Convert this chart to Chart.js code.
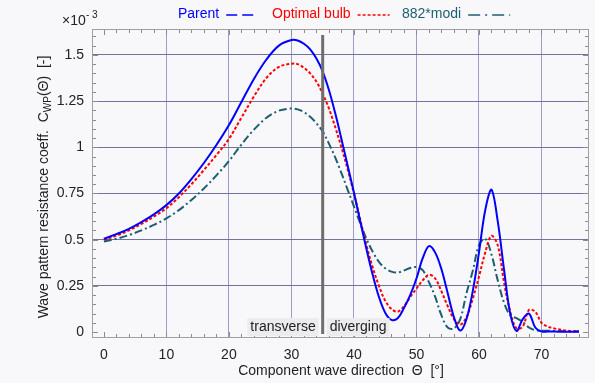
<!DOCTYPE html>
<html>
<head>
<meta charset="utf-8">
<script src="https://cdn.jsdelivr.net/npm/chart.js@4/dist/chart.umd.min.js"></script>
<style>
  html, body { margin: 0; padding: 0; background: #f8f8fb; }
  #wrap { width: 595px; height: 383px; }
</style>
</head>
<body>
<div id="wrap"><canvas id="chart" width="595" height="383"></canvas></div>
<script>
'use strict';

// component wave direction [deg]
const angles = [0,2,4,6,8,10,12,14,16,18,20,22,24,26,28,30,31,32,33,34,35,36,37,38,39,40,
  41,42,43,44,45,46,47,48,49,50,51,52,53,54,55,56,57,58,59,60,61,62,63,64,65,66,67,68,69,70,71,72,74,76];

// C_WP values, x10^-3
const parent = [0.505,0.53,0.558,0.595,0.637,0.687,0.75,0.828,0.915,1.012,1.12,1.245,1.37,1.475,1.55,1.58,1.578,1.56,1.53,1.48,1.41,1.31,1.185,1.045,0.9,0.755,
  0.6,0.45,0.31,0.19,0.105,0.066,0.075,0.13,0.2,0.29,0.4,0.465,0.43,0.34,0.21,0.08,0.008,0.07,0.22,0.43,0.66,0.77,0.6,0.34,0.1,0.006,0.07,0.1,0.025,0.003,0.003,0.003,0.002,0.002];
const optimal = [0.5,0.522,0.55,0.585,0.625,0.67,0.73,0.8,0.877,0.958,1.045,1.16,1.275,1.375,1.435,1.452,1.45,1.43,1.4,1.355,1.29,1.21,1.11,1.0,0.88,0.75,
  0.61,0.47,0.35,0.25,0.17,0.125,0.11,0.14,0.19,0.235,0.28,0.31,0.29,0.22,0.14,0.07,0.04,0.08,0.18,0.3,0.43,0.52,0.47,0.27,0.11,0.02,0.03,0.12,0.11,0.05,0.03,0.02,0.008,0.003];
const modi882 = [0.49,0.505,0.525,0.55,0.58,0.615,0.66,0.715,0.777,0.848,0.925,1.015,1.095,1.16,1.198,1.21,1.205,1.19,1.165,1.13,1.085,1.02,0.945,0.86,0.77,0.68,
  0.59,0.505,0.435,0.38,0.345,0.327,0.322,0.333,0.347,0.352,0.335,0.27,0.19,0.09,0.025,0.02,0.07,0.21,0.33,0.47,0.505,0.42,0.28,0.16,0.09,0.075,0.055,0.025,0.01,0.008,0.007,0.006,0.005,0.004];

const xTicks = [0,10,20,30,40,50,60,70];
const yTicks = [0,0.25,0.5,0.75,1,1.25,1.5];
const seriesNames = ['Parent','Optimal bulb','882*modi'];
const seriesColors = ['#0000ff','#ff0000','#1c5f70'];
const seriesDash = [[], [3,2], [8,3,2,3]];
const splitAngle = 35;

const FONT = '"Liberation Sans", Arial, sans-serif';
const GRID_X = '#9c9cc8';
const GRID_Y = '#72729e';

function pts(ys){
    return angles.map((a,i)=>({x:a, y:ys[i]}));
}

const decor = {
    id:'decor',
    beforeDraw(chart){
        const c = chart.ctx;
        c.save();
        c.fillStyle = '#f8f8fb';
        c.fillRect(0,0,chart.width,chart.height);
        c.restore();
    },
    afterDatasetsDraw(chart){
        const c = chart.ctx, a = chart.chartArea;
        const xs = chart.scales.x, ys = chart.scales.y;
        c.save();
        // minor ticks on all four sides
        c.strokeStyle = '#8a8a8a';
        c.lineWidth = 1;
        c.beginPath();
        for (let v = 0; v <= 76; v += 2) {
            const px = Math.round(xs.getPixelForValue(v)) + 0.5;
            const len = v % 10 === 0 ? 6 : 4;
            c.moveTo(px, a.bottom); c.lineTo(px, a.bottom - len);
            c.moveTo(px, a.top); c.lineTo(px, a.top + len);
        }
        for (let k = 0; k <= 32; k++) {
            const v = k * 0.05;
            const py = Math.round(ys.getPixelForValue(v)) + 0.5;
            const len = k % 5 === 0 ? 6 : 4;
            c.moveTo(a.left, py); c.lineTo(a.left + len, py);
            c.moveTo(a.right, py); c.lineTo(a.right - len, py);
        }
        c.stroke();
        // frame
        c.strokeStyle = '#a0a0a0';
        c.strokeRect(a.left + 0.5, a.top + 0.5, a.right - a.left - 1, a.bottom - a.top - 1);

        // transverse / diverging split
        const sx = xs.getPixelForValue(splitAngle);
        c.font = '14px ' + FONT;
        c.textBaseline = 'middle';
        const ly = 327;
        const w1 = c.measureText('transverse').width;
        const w2 = c.measureText('diverging').width;
        c.fillStyle = '#ececee';
        c.fillRect(sx - w1 - 10, ly - 9, w1 + 6, 18);
        c.fillRect(sx + 4, ly - 9, w2 + 6, 18);
        c.fillStyle = '#222';
        c.textAlign = 'right';
        c.fillText('transverse', sx - 7, ly);
        c.textAlign = 'left';
        c.fillText('diverging', sx + 7, ly);
        c.strokeStyle = '#6e6e6e';
        c.lineWidth = 3;
        c.beginPath();
        c.moveTo(sx, a.top + 6);
        c.lineTo(sx, 334);
        c.stroke();
        c.restore();
    },
    afterDraw(chart){
        const c = chart.ctx;
        c.save();
        // legend: text then line sample
        c.font = '14px ' + FONT;
        c.textBaseline = 'middle';
        c.textAlign = 'left';
        const items = [{x:178, len:28}, {x:272, len:32}, {x:402, len:42}];
        items.forEach((it,i)=>{
            c.fillStyle = seriesColors[i];
            c.fillText(seriesNames[i], it.x, 14);
            const s = it.x + c.measureText(seriesNames[i]).width + 7;
            c.strokeStyle = seriesColors[i];
            c.lineWidth = 1.5;
            c.setLineDash(i === 0 ? [11,5] : i === 1 ? [3,2] : [12,5,2,5]);
            c.beginPath();
            c.moveTo(s, 15); c.lineTo(s + it.len, 15);
            c.stroke();
        });
        c.setLineDash([]);

        // exponent
        c.fillStyle = '#222';
        c.font = '14px ' + FONT;
        c.textBaseline = 'alphabetic';
        c.fillText('\u00d710', 62, 25);
        c.font = '10px ' + FONT;
        c.fillText('- 3', 86, 18);

        // x title
        c.font = '14px ' + FONT;
        c.textAlign = 'center';
        c.textBaseline = 'middle';
        c.fillText('Component wave direction  \u0398  [\u00b0]', 341, 371);

        // y title with subscript
        c.translate(44, 187);
        c.rotate(-Math.PI / 2);
        const parts = [
            {t:'Wave pattern resistance coeff.  C', f:14, dy:0},
            {t:'WP', f:10, dy:4},
            {t:'(\u0398)  [-]', f:14, dy:0}
        ];
        let total = 0;
        parts.forEach(p=>{ c.font = p.f + 'px ' + FONT; p.w = c.measureText(p.t).width; total += p.w; });
        let x0 = -total / 2;
        c.textAlign = 'left';
        parts.forEach(p=>{
            c.font = p.f + 'px ' + FONT;
            c.fillText(p.t, x0, p.dy);
            x0 += p.w;
        });
        c.restore();
    }
};

const datasets = [parent, optimal, modi882].map((ys,i)=>({
    label: seriesNames[i],
    data: pts(ys),
    borderColor: seriesColors[i],
    borderWidth: 2,
    borderDash: seriesDash[i],
    pointRadius: 0,
    fill: false,
    tension: 0.35,
    order: i
}));

new Chart(document.getElementById('chart'), {
    type: 'line',
    data: { datasets: datasets },
    plugins: [decor],
    options: {
        responsive: false,
        animation: false,
        layout: { padding: { left: 0, top: 29, right: 6, bottom: 0 } },
        plugins: { legend: { display: false }, tooltip: { enabled: false } },
        scales: {
            x: {
                type: 'linear',
                min: -1.9,
                max: 77.6,
                afterFit: s => { s.height = 45; },
                afterBuildTicks: s => { s.ticks = xTicks.map(v=>({value:v})); },
                grid: {
                    color: ctx => ctx.tick && ctx.tick.value === 0 ? 'rgba(0,0,0,0)' : GRID_X,
                    drawTicks: false
                },
                border: { display: false },
                ticks: { color: '#222', font: { size: 14, family: FONT }, padding: 9, maxRotation: 0 }
            },
            y: {
                type: 'linear',
                min: -0.032,
                max: 1.64,
                afterFit: s => { s.width = 92; },
                afterBuildTicks: s => { s.ticks = yTicks.map(v=>({value:v})); },
                grid: {
                    color: ctx => ctx.tick && ctx.tick.value === 0 ? 'rgba(0,0,0,0)' : GRID_Y,
                    drawTicks: false
                },
                border: { display: false },
                ticks: { color: '#222', font: { size: 14, family: FONT }, padding: 8,
                    callback: v => String(v) }
            }
        }
    }
});
</script>
</body>
</html>
